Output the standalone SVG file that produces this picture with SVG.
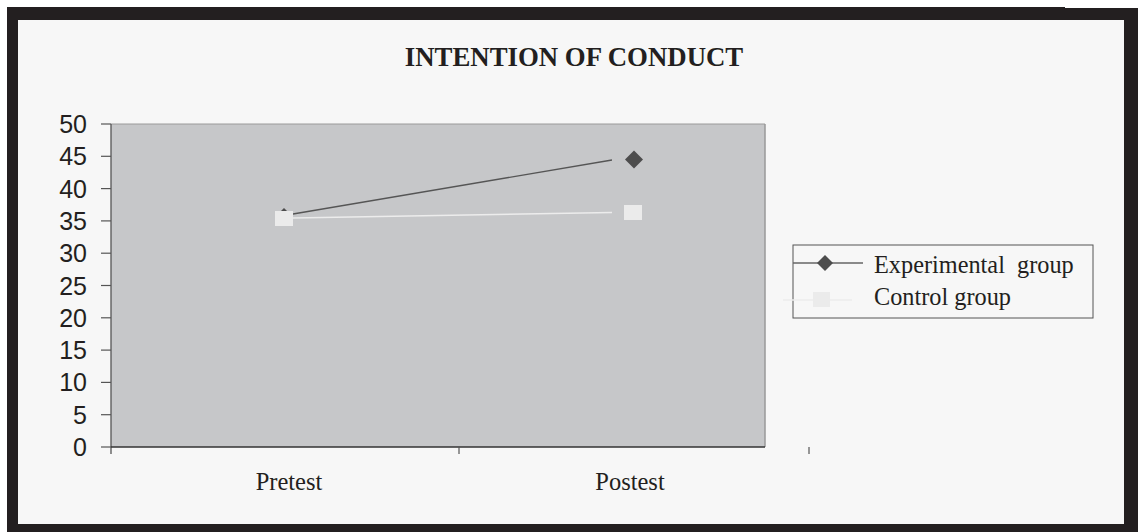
<svg xmlns="http://www.w3.org/2000/svg" width="1138" height="532" viewBox="0 0 1138 532">
<style>
.ylab{font-family:"Liberation Sans",Arial,sans-serif;font-size:25px;fill:#231f20;text-anchor:end}
.xlab{font-family:"Liberation Serif","Times New Roman",serif;font-size:24.5px;fill:#231f20;text-anchor:middle}
.leg{font-family:"Liberation Serif","Times New Roman",serif;font-size:24.3px;fill:#231f20}
.title{font-family:"Liberation Serif","Times New Roman",serif;font-size:26.8px;font-weight:bold;fill:#231f20;text-anchor:middle}
.tick{stroke:#555;stroke-width:1.2}
.diam{fill:#4d4d4d}
.sq{fill:#ebebeb}
</style>
<defs>
<path id="diamond" d="M0,-9 L9,0 L0,9 L-9,0 Z"/>
<path id="diamond-small" d="M0,-8 L8,0 L0,8 L-8,0 Z"/>
</defs>
<rect x="0" y="0" width="1138" height="532" fill="#ffffff"/>
<rect x="7" y="7" width="1131" height="525" fill="#231f20"/>
<rect x="1065" y="7" width="73" height="1" fill="#ffffff"/>
<rect x="18" y="20" width="1106" height="504" fill="#f7f7f7"/>
<text class="title" x="574" y="66">INTENTION OF CONDUCT</text>
<g id="plot-area">
<rect x="111" y="124" width="654" height="323" fill="#c6c7c9"/>
<line x1="111" y1="124" x2="765" y2="124" stroke="#9a9a9a" stroke-width="1"/>
<line x1="765" y1="124" x2="765" y2="447" stroke="#999" stroke-width="1.5"/>
</g>
<g id="axes">
<line x1="111" y1="124" x2="111" y2="454" stroke="#555" stroke-width="1.3"/>
<line x1="111" y1="447" x2="765" y2="447" stroke="#333" stroke-width="1.3"/>
<g class="tick">
<line x1="101" y1="124" x2="111" y2="124"/>
<line x1="101" y1="156.3" x2="111" y2="156.3"/>
<line x1="101" y1="188.6" x2="111" y2="188.6"/>
<line x1="101" y1="220.9" x2="111" y2="220.9"/>
<line x1="101" y1="253.2" x2="111" y2="253.2"/>
<line x1="101" y1="285.5" x2="111" y2="285.5"/>
<line x1="101" y1="317.8" x2="111" y2="317.8"/>
<line x1="101" y1="350.1" x2="111" y2="350.1"/>
<line x1="101" y1="382.4" x2="111" y2="382.4"/>
<line x1="101" y1="414.7" x2="111" y2="414.7"/>
<line x1="101" y1="447" x2="111" y2="447"/>
<line x1="459" y1="447" x2="459" y2="454"/>
<line x1="809" y1="447" x2="809" y2="454"/>
</g>
<text class="ylab" x="87" y="133">50</text>
<text class="ylab" x="87" y="165.3">45</text>
<text class="ylab" x="87" y="197.6">40</text>
<text class="ylab" x="87" y="229.9">35</text>
<text class="ylab" x="87" y="262.2">30</text>
<text class="ylab" x="87" y="294.5">25</text>
<text class="ylab" x="87" y="326.8">20</text>
<text class="ylab" x="87" y="359.1">15</text>
<text class="ylab" x="87" y="391.4">10</text>
<text class="ylab" x="87" y="423.7">5</text>
<text class="ylab" x="87" y="456">0</text>
<text class="xlab" x="289" y="490">Pretest</text>
<text class="xlab" x="630" y="490">Postest</text>
</g>
<g id="connectors">
<line x1="293" y1="214" x2="612" y2="160" stroke="#555" stroke-width="1.3"/>
<line x1="293" y1="218" x2="612" y2="212.5" stroke="#ececec" stroke-width="1.5"/>
</g>
<g id="experimental-series">
<use href="#diamond" class="diam" x="284" y="217"/>
<use href="#diamond" class="diam" x="634" y="159.5"/>
</g>
<g id="control-series">
<rect class="sq" x="275" y="211" width="18" height="15"/>
<rect class="sq" x="624" y="205" width="18" height="15"/>
</g>
<g id="legend">
<rect x="793" y="245" width="300" height="73" fill="#f7f7f7" stroke="#555" stroke-width="1"/>
<line x1="793" y1="263" x2="863" y2="263" stroke="#666" stroke-width="1.3"/>
<use href="#diamond-small" class="diam" x="825" y="263"/>
<line x1="783" y1="300" x2="852" y2="300" stroke="#ececec" stroke-width="1.3"/>
<rect class="sq" x="813" y="292" width="17" height="15"/>
<text class="leg" x="874" y="273" xml:space="preserve">Experimental  group</text>
<text class="leg" x="874" y="305">Control group</text>
</g>
</svg>
